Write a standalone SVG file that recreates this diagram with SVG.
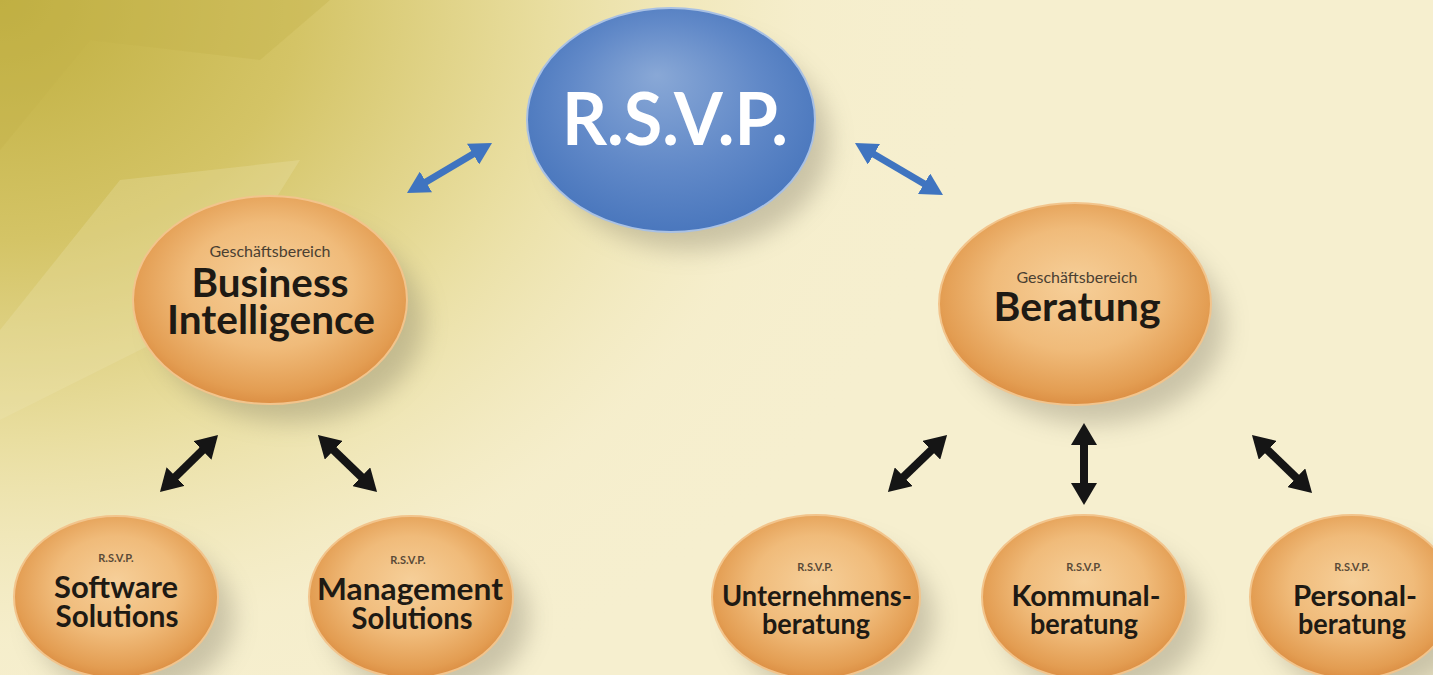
<svg xmlns="http://www.w3.org/2000/svg" width="1433" height="675" viewBox="0 0 1433 675">
  <defs>
    <radialGradient id="bgGold" gradientUnits="userSpaceOnUse" cx="0" cy="0" r="1000" gradientTransform="scale(1,0.8)">
      <stop offset="0" stop-color="#bfae3e"/>
      <stop offset="0.3" stop-color="#d4c466"/>
      <stop offset="0.55" stop-color="#e9dea0"/>
      <stop offset="0.8" stop-color="#f5edc9" stop-opacity="0.6"/>
      <stop offset="1" stop-color="#f6efcf" stop-opacity="0"/>
    </radialGradient>
    <radialGradient id="orange" cx="50%" cy="45%" r="55%" fx="50%" fy="40%">
      <stop offset="0" stop-color="#f6cf99"/>
      <stop offset="0.55" stop-color="#f0bb7a"/>
      <stop offset="0.9" stop-color="#e39d52"/>
      <stop offset="1" stop-color="#dc8f44"/>
    </radialGradient>
    <radialGradient id="blue" cx="50%" cy="45%" r="55%" fx="45%" fy="30%">
      <stop offset="0" stop-color="#89a8d6"/>
      <stop offset="0.6" stop-color="#6189c8"/>
      <stop offset="1" stop-color="#4a77bd"/>
    </radialGradient>
    <filter id="shadow" x="-30%" y="-30%" width="160%" height="160%">
      <feGaussianBlur stdDeviation="12"/>
    </filter>
    <marker id="headBlue" viewBox="0 0 22 24" markerWidth="22" markerHeight="24" markerUnits="userSpaceOnUse" refX="4" refY="12" orient="auto-start-reverse">
      <path d="M0,0 L22,12 L0,24 z" fill="#3f74c0"/>
    </marker>
    <marker id="headBlack" viewBox="0 0 22 26" markerWidth="22" markerHeight="26" markerUnits="userSpaceOnUse" refX="4" refY="13" orient="auto-start-reverse">
      <path d="M0,0 L22,13 L0,26 z" fill="#151515"/>
    </marker>
    <style>
      .orange { fill: url(#orange); stroke: #f2c48c; stroke-width: 2; }
      .blue { fill: url(#blue); stroke: #a9c1e4; stroke-width: 2; }
      .shadow { fill: #7a7560; opacity: 0.35; filter: url(#shadow); }
      .sm { font-family: Lato, "Liberation Sans", sans-serif; font-size: 16px; fill: #4a4032; text-anchor: middle; }
      .tiny { font-family: Lato, "Liberation Sans", sans-serif; font-size: 11px; font-weight: 700; fill: #5a4a38; text-anchor: middle; }
      .big { font-family: Lato, "Liberation Sans", sans-serif; font-size: 40px; font-weight: 700; fill: #1e1a14; text-anchor: middle; }
      .mid { font-family: Lato, "Liberation Sans", sans-serif; font-size: 30px; font-weight: 700; fill: #1e1a14; text-anchor: middle; }
      .mid2 { font-family: Lato, "Liberation Sans", sans-serif; font-size: 28px; font-weight: 700; fill: #1e1a14; text-anchor: middle; }
      .title { font-family: Lato, "Liberation Sans", sans-serif; font-size: 72px; font-weight: 700; fill: #ffffff; text-anchor: middle; }
      .cb { stroke: #3f74c0; stroke-width: 7; fill: none; marker-start: url(#headBlue); marker-end: url(#headBlue); }
      .ck { stroke: #151515; stroke-width: 8; fill: none; marker-start: url(#headBlack); marker-end: url(#headBlack); }
    </style>
  </defs>

  <!-- background -->
  <rect x="0" y="0" width="1433" height="675" fill="#f6efcf"/>
  <rect x="0" y="0" width="1433" height="675" fill="url(#bgGold)"/>
  <polygon points="0,150 90,40 260,60 330,0 0,0" fill="#c2b14a" opacity="0.35"/>
  <polygon points="0,330 120,180 300,160 200,320 0,420" fill="#efe6b8" opacity="0.25"/>

  <!-- shadows -->
  <g id="shadows">
    <ellipse class="shadow" cx="690" cy="142" rx="140" ry="108"/>
    <ellipse class="shadow" cx="290" cy="322" rx="134" ry="100"/>
    <ellipse class="shadow" cx="1093" cy="326" rx="132" ry="98"/>
    <ellipse class="shadow" cx="134" cy="618" rx="100" ry="78"/>
    <ellipse class="shadow" cx="429" cy="618" rx="100" ry="78"/>
    <ellipse class="shadow" cx="834" cy="618" rx="100" ry="78"/>
    <ellipse class="shadow" cx="1102" cy="618" rx="100" ry="78"/>
    <ellipse class="shadow" cx="1370" cy="618" rx="100" ry="78"/>
  </g>

  <g id="connectors">
    <line class="cb" x1="422.5" y1="183.9" x2="476.5" y2="152.1"/>
    <line class="cb" x1="870.5" y1="152.2" x2="927.5" y2="185.8"/>
    <line class="ck" x1="172.8" y1="479.4" x2="205.2" y2="447.6"/>
    <line class="ck" x1="330.9" y1="447.5" x2="364.1" y2="479.5"/>
    <line class="ck" x1="900.9" y1="479.5" x2="934.1" y2="447.5"/>
    <line class="ck" x1="1084" y1="441" x2="1084" y2="487"/>
    <line class="ck" x1="1264.9" y1="447.5" x2="1299.1" y2="480.5"/>
  </g>

  <g id="rsvp">
    <ellipse class="blue" cx="671" cy="120" rx="144" ry="112"/>
    <text class="title" x="675" y="145" textLength="226" lengthAdjust="spacingAndGlyphs">R.S.V.P.</text>
  </g>

  <g id="business-intelligence">
    <ellipse class="orange" cx="270" cy="300" rx="137" ry="104"/>
    <text class="sm" x="270" y="257">Geschäftsbereich</text>
    <text class="big" x="270" y="297" textLength="157" lengthAdjust="spacingAndGlyphs">Business</text>
    <text class="big" x="271" y="334" textLength="208" lengthAdjust="spacingAndGlyphs">Intelligence</text>
  </g>

  <g id="beratung">
    <ellipse class="orange" cx="1075" cy="304" rx="136" ry="101"/>
    <text class="sm" x="1077" y="283">Geschäftsbereich</text>
    <text class="big" x="1077" y="321" textLength="167" lengthAdjust="spacingAndGlyphs">Beratung</text>
  </g>

  <g id="software-solutions">
    <ellipse class="orange" cx="116" cy="597" rx="102" ry="81"/>
    <text class="tiny" x="116" y="562">R.S.V.P.</text>
    <text class="mid" x="116" y="598" textLength="124" lengthAdjust="spacingAndGlyphs">Software</text>
    <text class="mid" x="117" y="627" textLength="123" lengthAdjust="spacingAndGlyphs">Solutions</text>
  </g>

  <g id="management-solutions">
    <ellipse class="orange" cx="411" cy="597" rx="102" ry="81"/>
    <text class="tiny" x="408" y="564">R.S.V.P.</text>
    <text class="mid" x="410" y="600" textLength="186" lengthAdjust="spacingAndGlyphs">Management</text>
    <text class="mid" x="412" y="629" textLength="121" lengthAdjust="spacingAndGlyphs">Solutions</text>
  </g>

  <g id="unternehmensberatung">
    <ellipse class="orange" cx="816" cy="597" rx="104" ry="82"/>
    <text class="tiny" x="815" y="571">R.S.V.P.</text>
    <text class="mid2" x="817" y="606" textLength="190" lengthAdjust="spacingAndGlyphs">Unternehmens-</text>
    <text class="mid2" x="816" y="634" textLength="108" lengthAdjust="spacingAndGlyphs">beratung</text>
  </g>

  <g id="kommunalberatung">
    <ellipse class="orange" cx="1084" cy="597" rx="102" ry="82"/>
    <text class="tiny" x="1084" y="571">R.S.V.P.</text>
    <text class="mid2" x="1086" y="606" textLength="149" lengthAdjust="spacingAndGlyphs">Kommunal-</text>
    <text class="mid2" x="1084" y="634" textLength="108" lengthAdjust="spacingAndGlyphs">beratung</text>
  </g>

  <g id="personalberatung">
    <ellipse class="orange" cx="1352" cy="597" rx="102" ry="82"/>
    <text class="tiny" x="1352" y="571">R.S.V.P.</text>
    <text class="mid2" x="1355" y="606" textLength="124" lengthAdjust="spacingAndGlyphs">Personal-</text>
    <text class="mid2" x="1352" y="634" textLength="108" lengthAdjust="spacingAndGlyphs">beratung</text>
  </g>
</svg>
